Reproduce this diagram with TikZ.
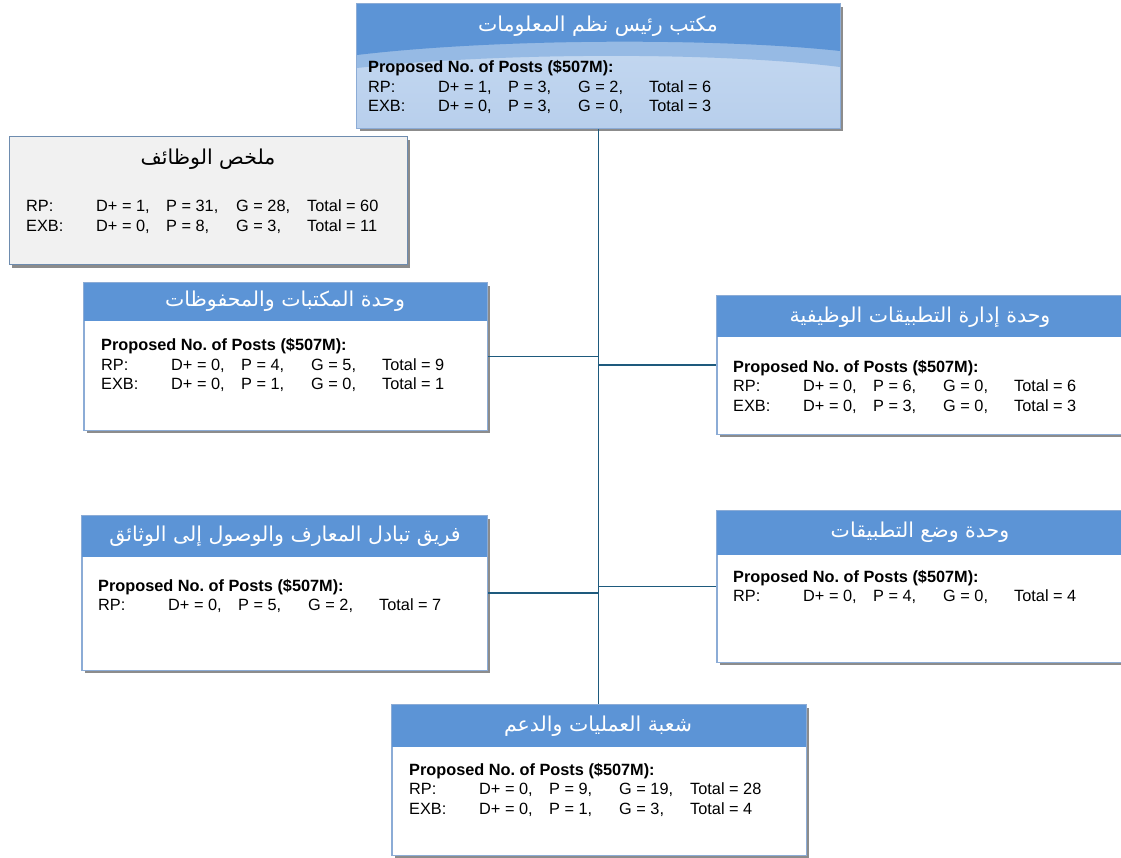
\documentclass[tikz,border=0pt]{standalone}
\usepackage{fontspec}
\setmainfont{Liberation Sans}
\newfontfamily\arabicfont[Script=Arabic]{DejaVu Sans}
\TeXXeTstate=1
\usetikzlibrary{shadows}
\definecolor{hdrblue}{RGB}{92,148,214}
\definecolor{midblue}{RGB}{150,186,228}
\definecolor{bodytop}{RGB}{200,219,242}
\definecolor{bodybot}{RGB}{184,207,236}
\definecolor{bordblue}{RGB}{140,172,214}
\definecolor{connc}{RGB}{30,90,125}
\definecolor{sumfill}{RGB}{241,241,241}
\definecolor{sumbord}{RGB}{110,140,175}
\newcommand\postsbody[1]{{\fontsize{16.3}{19.5}\selectfont\setlength\tabcolsep{0pt}%
\begin{tabular}[t]{@{}p{70pt}p{70pt}p{70pt}p{71pt}l@{}}#1\end{tabular}}}
\newcommand\proposedline{\multicolumn{5}{@{}l@{}}{\bfseries Proposed No.\ of Posts (\$507M):}\\}
\tikzset{
 unitbox/.style={draw=bordblue, line width=1pt, fill=white, inner sep=0pt,
   drop shadow={shadow xshift=3pt, shadow yshift=-3pt, fill=black!45, opacity=1}},
 hdr/.style={fill=hdrblue},
 bord/.style={draw=bordblue, line width=1pt},
 conn/.style={draw=connc, line width=1.5pt},
 title/.style={text=white, font=\arabicfont\fontsize{20.5}{24}\selectfont, inner sep=0pt},
 sumtitle/.style={text=black, font=\arabicfont\fontsize{20.5}{24}\selectfont, inner sep=0pt},
 bodytext/.style={anchor=base west, inner sep=0pt}
}
\begin{document}
\begin{tikzpicture}[x=1pt,y=-1pt]
\useasboundingbox (0,0) rectangle (1121,858);
% boxes
\node[unitbox, minimum width=483pt, minimum height=124pt] (top) at (598.5,66) {};
\node[unitbox, draw=sumbord, fill=sumfill, minimum width=398pt, minimum height=128pt] (sum) at (208,201) {};
\node[unitbox, minimum width=403pt, minimum height=147pt] (l1) at (285.5,356.5) {};
\node[unitbox, minimum width=408pt, minimum height=138pt] (r1) at (921,365) {};
\node[unitbox, minimum width=405pt, minimum height=154pt] (l2) at (284.5,593) {};
\node[unitbox, minimum width=408pt, minimum height=151pt] (r2) at (921,586.5) {};
\node[unitbox, minimum width=414pt, minimum height=150pt] (bot) at (599,780) {};
% connectors
\draw[conn] (top.south) -- (top.south |- bot.north);
\draw[conn] (l1.east) -- (l1.east -| top.south);
\draw[conn] (r1.west) -- (r1.west -| top.south);
\draw[conn] (l2.east) -- (l2.east -| top.south);
\draw[conn] (r2.west) -- (r2.west -| top.south);
% top box decoration
\shade[top color=bodytop, bottom color=bodybot] (top.north west) rectangle (top.south east);
\fill[midblue] (357,4) -- (840,4) -- (840,67) .. controls (720,52) and (500,52) .. (357,68) -- cycle;
\fill[hdrblue] (357,4) -- (840,4) -- (840,51) .. controls (720,38) and (500,38) .. (357,55) -- cycle;
\draw[bord] (top.north west) rectangle (top.south east);
% headers
\fill[hdr] (l1.north west) rectangle ([yshift=-39pt]l1.north east);
\fill[hdr] (r1.north west) rectangle ([yshift=-42pt]r1.north east);
\fill[hdr] (l2.north west) rectangle ([yshift=-41pt]l2.north east);
\fill[hdr] (r2.north west) rectangle ([yshift=-44pt]r2.north east);
\fill[hdr] (bot.north west) rectangle ([yshift=-42pt]bot.north east);
\draw[bord] (l1.north west) rectangle (l1.south east);
\draw[bord] (r1.north west) rectangle (r1.south east);
\draw[bord] (l2.north west) rectangle (l2.south east);
\draw[bord] (r2.north west) rectangle (r2.south east);
\draw[bord] (bot.north west) rectangle (bot.south east);
% titles
\node[title] (ttop) at (598,26) {\beginR مكتب رئيس نظم المعلومات\endR};
\node[sumtitle] (tsum) at (208,159) {\beginR ملخص الوظائف\endR};
\node[title] (tl1) at (285,301) {\beginR وحدة المكتبات والمحفوظات\endR};
\node[title] (tr1) at (920,317) {\beginR وحدة إدارة التطبيقات الوظيفية\endR};
\node[title] (tl2) at (285,536) {\beginR فريق تبادل المعارف والوصول إلى الوثائق\endR};
\node[title] (tr2) at (920,532) {\beginR وحدة وضع التطبيقات\endR};
\node[title] (tbot) at (598,726) {\beginR شعبة العمليات والدعم\endR};
% bodies
\node[bodytext] (btop) at (368,73) {\postsbody{\proposedline
RP: & D+ = 1, & P = 3, & G = 2, & Total = 6\\
EXB: & D+ = 0, & P = 3, & G = 0, & Total = 3}};
\node[bodytext] (bsum) at (26,212) {\postsbody{%
RP: & D+ = 1, & P = 31, & G = 28, & Total = 60\\
EXB: & D+ = 0, & P = 8, & G = 3, & Total = 11}};
\node[bodytext] (bl1) at (101,351) {\postsbody{\proposedline
RP: & D+ = 0, & P = 4, & G = 5, & Total = 9\\
EXB: & D+ = 0, & P = 1, & G = 0, & Total = 1}};
\node[bodytext] (br1) at (733,372) {\postsbody{\proposedline
RP: & D+ = 0, & P = 6, & G = 0, & Total = 6\\
EXB: & D+ = 0, & P = 3, & G = 0, & Total = 3}};
\node[bodytext] (bl2) at (98,591) {\postsbody{\proposedline
RP: & D+ = 0, & P = 5, & G = 2, & Total = 7}};
\node[bodytext] (br2) at (733,582) {\postsbody{\proposedline
RP: & D+ = 0, & P = 4, & G = 0, & Total = 4}};
\node[bodytext] (bbot) at (409,775) {\postsbody{\proposedline
RP: & D+ = 0, & P = 9, & G = 19, & Total = 28\\
EXB: & D+ = 0, & P = 1, & G = 3, & Total = 4}};
\end{tikzpicture}
\end{document}
